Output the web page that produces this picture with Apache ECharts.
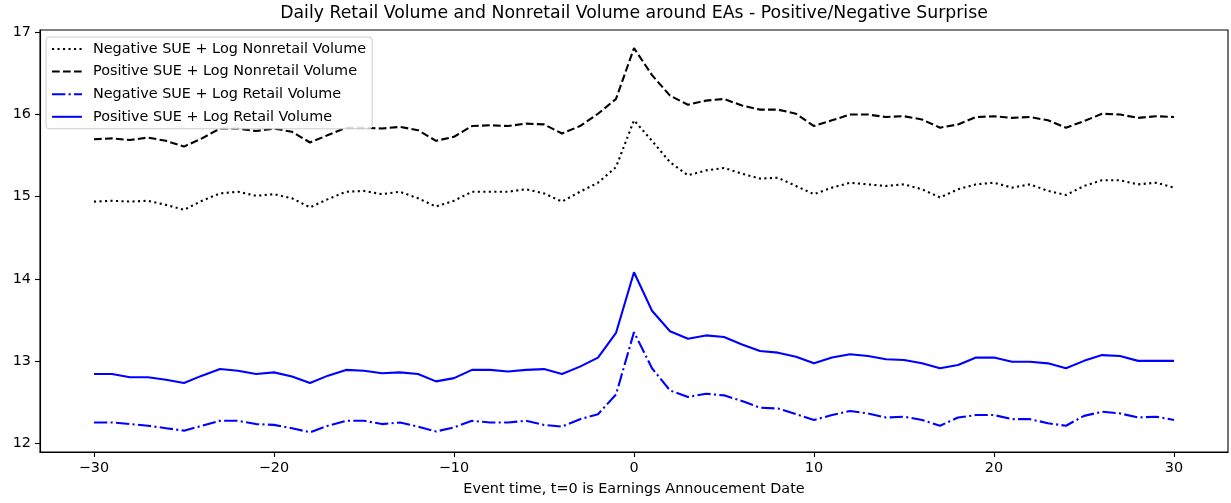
<!DOCTYPE html>
<html>
<head>
<meta charset="utf-8">
<script src="https://cdn.jsdelivr.net/npm/echarts@6/dist/echarts.min.js"></script>
<style>
html,body{margin:0;padding:0;background:#fff;}
#chart{width:1231px;height:503px;}
</style>
</head>
<body>
<div id="chart"></div>
<script>
const eventTimes = [-30,-29,-28,-27,-26,-25,-24,-23,-22,-21,-20,-19,-18,-17,-16,-15,-14,-13,-12,-11,-10,-9,-8,-7,-6,-5,-4,-3,-2,-1,0,1,2,3,4,5,6,7,8,9,10,11,12,13,14,15,16,17,18,19,20,21,22,23,24,25,26,27,28,29,30];

const negNonretail = [14.94,14.95,14.94,14.95,14.90,14.84,14.95,15.04,15.06,15.01,15.03,14.98,14.87,14.97,15.06,15.07,15.03,15.06,14.98,14.88,14.95,15.06,15.06,15.06,15.09,15.04,14.94,15.06,15.17,15.36,15.93,15.68,15.42,15.26,15.32,15.35,15.28,15.22,15.23,15.13,15.03,15.11,15.17,15.15,15.13,15.15,15.09,14.99,15.09,15.15,15.17,15.11,15.15,15.07,15.02,15.13,15.20,15.20,15.15,15.17,15.11];

const posNonretail = [15.70,15.71,15.69,15.72,15.68,15.61,15.71,15.83,15.83,15.80,15.83,15.79,15.66,15.75,15.84,15.84,15.83,15.85,15.81,15.68,15.73,15.86,15.87,15.86,15.89,15.88,15.77,15.86,16.01,16.19,16.81,16.48,16.23,16.12,16.17,16.19,16.11,16.06,16.06,16.01,15.86,15.93,16.00,16.00,15.97,15.98,15.94,15.84,15.88,15.97,15.98,15.96,15.97,15.93,15.84,15.92,16.01,16.00,15.96,15.98,15.97];

const negRetail = [12.25,12.25,12.23,12.21,12.18,12.15,12.21,12.27,12.27,12.23,12.22,12.18,12.13,12.21,12.27,12.27,12.23,12.25,12.20,12.14,12.19,12.27,12.25,12.25,12.27,12.22,12.20,12.29,12.35,12.59,13.35,12.91,12.64,12.56,12.60,12.58,12.51,12.43,12.42,12.35,12.28,12.34,12.39,12.36,12.31,12.32,12.28,12.21,12.31,12.34,12.34,12.29,12.29,12.24,12.21,12.33,12.38,12.36,12.31,12.32,12.28];

const posRetail = [12.84,12.84,12.80,12.80,12.77,12.73,12.82,12.90,12.88,12.84,12.86,12.81,12.73,12.82,12.89,12.88,12.85,12.86,12.84,12.75,12.79,12.89,12.89,12.87,12.89,12.90,12.84,12.93,13.04,13.34,14.08,13.61,13.36,13.27,13.31,13.29,13.20,13.12,13.10,13.05,12.97,13.04,13.08,13.06,13.02,13.01,12.97,12.91,12.95,13.04,13.04,12.99,12.99,12.97,12.91,13.00,13.07,13.06,13.00,13.00,13.00];

const xTicks = [-30,-20,-10,0,10,20,30];
const yTicks = [12,13,14,15,16,17];

const seriesNames = [
  'Negative SUE + Log Nonretail Volume',
  'Positive SUE + Log Nonretail Volume',
  'Negative SUE + Log Retail Volume',
  'Positive SUE + Log Retail Volume'
];
const seriesValues = [negNonretail, posNonretail, negRetail, posRetail];
const seriesColors = ['#000000', '#000000', '#0000ff', '#0000ff'];
const seriesDash = [[2.1, 3.4], [7.7, 3.3], [13.3, 3.3, 2.1, 3.3], 'solid'];

const FONT = 'DejaVu Sans';
const fmt = v => String(v).replace('-', '\u2212');

const chart = echarts.init(document.getElementById('chart'), null, {renderer: 'canvas'});
chart.setOption({
  animation: false,
  backgroundColor: '#ffffff',
  title: {
    text: 'Daily Retail Volume and Nonretail Volume around EAs - Positive/Negative Surprise',
    left: 634,
    top: 5,
    textAlign: 'center',
    padding: 0,
    textStyle: {fontFamily: FONT, fontSize: 17.3, fontWeight: 'normal', color: '#000'}
  },
  legend: {
    orient: 'vertical',
    left: 46,
    top: 37,
    padding: [5, 6, 5, 5],
    itemWidth: 30,
    itemHeight: 14,
    itemGap: 8.6,
    backgroundColor: 'rgba(255,255,255,0.85)',
    borderColor: '#cccccc',
    borderWidth: 1,
    borderRadius: 3,
    itemStyle: {opacity: 0},
    textStyle: {fontFamily: FONT, fontSize: 14.4, color: '#000', padding: [0, 0, 0, 6]},
    data: seriesNames.map(n => ({name: n}))
  },
  grid: {left: 40, right: 3, top: 30, bottom: 51, show: true, borderColor: '#000', borderWidth: 1.1, backgroundColor: 'transparent'},
  xAxis: {
    type: 'value',
    min: -33,
    max: 33,
    name: 'Event time, t=0 is Earnings Annoucement Date',
    nameLocation: 'middle',
    nameGap: 30,
    nameTextStyle: {fontFamily: FONT, fontSize: 14.4, color: '#000'},
    axisLine: {show: true, onZero: false, lineStyle: {color: '#000', width: 1.1}},
    axisTick: {show: true, inside: false, length: 5, customValues: xTicks, lineStyle: {color: '#000', width: 1.1}},
    axisLabel: {customValues: xTicks, margin: 9, fontFamily: FONT, fontSize: 14.4, color: '#000', formatter: fmt},
    splitLine: {show: false}
  },
  yAxis: {
    type: 'value',
    min: 11.89,
    max: 17.03,
    axisLine: {show: true, onZero: false, lineStyle: {color: '#000', width: 1.1}},
    axisTick: {show: true, inside: false, length: 5, customValues: yTicks, lineStyle: {color: '#000', width: 1.1}},
    axisLabel: {customValues: yTicks, margin: 9, fontFamily: FONT, fontSize: 14.4, color: '#000', formatter: fmt},
    splitLine: {show: false}
  },
  series: seriesNames.map((name, i) => ({
    name: name,
    type: 'line',
    symbol: 'none',
    showSymbol: false,
    smooth: false,
    color: seriesColors[i],
    lineStyle: {color: seriesColors[i], width: 2.1, type: seriesDash[i], cap: 'butt'},
    data: eventTimes.map((t, j) => [t, seriesValues[i][j]])
  }))
});
</script>
</body>
</html>
